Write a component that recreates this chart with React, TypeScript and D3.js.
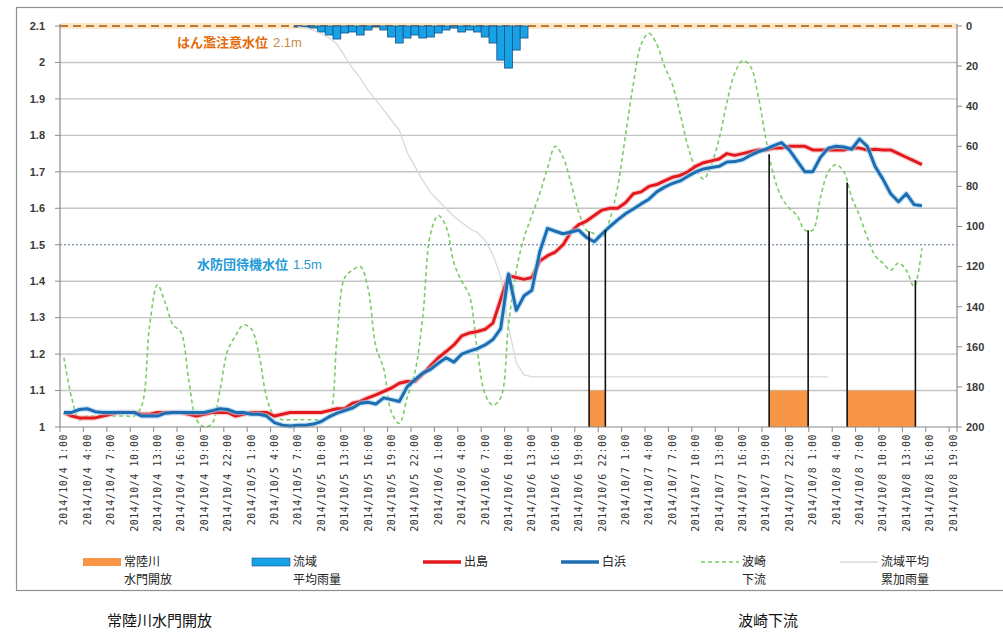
import React from 'react';
import * as d3 from 'd3';

// ---- tick labels (every 3 hours) ----
const tickLabels = [
  '2014/10/4 1:00', '2014/10/4 4:00', '2014/10/4 7:00', '2014/10/4 10:00', '2014/10/4 13:00', '2014/10/4 16:00', '2014/10/4 19:00', '2014/10/4 22:00',
  '2014/10/5 1:00', '2014/10/5 4:00', '2014/10/5 7:00', '2014/10/5 10:00', '2014/10/5 13:00', '2014/10/5 16:00', '2014/10/5 19:00', '2014/10/5 22:00',
  '2014/10/6 1:00', '2014/10/6 4:00', '2014/10/6 7:00', '2014/10/6 10:00', '2014/10/6 13:00', '2014/10/6 16:00', '2014/10/6 19:00', '2014/10/6 22:00',
  '2014/10/7 1:00', '2014/10/7 4:00', '2014/10/7 7:00', '2014/10/7 10:00', '2014/10/7 13:00', '2014/10/7 16:00', '2014/10/7 19:00', '2014/10/7 22:00',
  '2014/10/8 1:00', '2014/10/8 4:00', '2014/10/8 7:00', '2014/10/8 10:00', '2014/10/8 13:00', '2014/10/8 16:00', '2014/10/8 19:00',
];
const leftTicks = [1, 1.1, 1.2, 1.3, 1.4, 1.5, 1.6, 1.7, 1.8, 1.9, 2, 2.1];
const rightTicks = [0, 20, 40, 60, 80, 100, 120, 140, 160, 180, 200];

// ---- hourly series from 2014/10/4 1:00 (m) ----
const debashima = [
  1.04, 1.03, 1.025, 1.025, 1.025, 1.03, 1.035, 1.04, 1.04, 1.04,
  1.035, 1.035, 1.04, 1.04, 1.04, 1.04, 1.035, 1.03, 1.035, 1.04,
  1.04, 1.04, 1.03, 1.035, 1.04, 1.04, 1.04, 1.03, 1.035, 1.04,
  1.04, 1.04, 1.04, 1.04, 1.045, 1.05, 1.05, 1.065, 1.07, 1.08,
  1.088, 1.098, 1.107, 1.12, 1.125, 1.125, 1.145, 1.168, 1.19, 1.207,
  1.225, 1.25, 1.258, 1.262, 1.268, 1.285, 1.35, 1.415, 1.41, 1.405,
  1.41, 1.455, 1.47, 1.48, 1.5, 1.535, 1.555, 1.565, 1.58, 1.595,
  1.6, 1.6, 1.615, 1.64, 1.645, 1.66, 1.665, 1.675, 1.685, 1.69,
  1.7, 1.715, 1.725, 1.73, 1.735, 1.75, 1.745, 1.75, 1.755, 1.76,
  1.76, 1.765, 1.765, 1.77, 1.77, 1.77, 1.76, 1.76, 1.76, 1.76,
  1.76, 1.765, 1.765, 1.76, 1.762, 1.76, 1.76, 1.75, 1.74, 1.73,
  1.72,
];
const shirahama = [
  1.04, 1.04, 1.048, 1.05, 1.042, 1.04, 1.04, 1.04, 1.04, 1.04,
  1.03, 1.03, 1.03, 1.038, 1.04, 1.04, 1.04, 1.04, 1.04, 1.045,
  1.05, 1.048, 1.04, 1.04, 1.035, 1.035, 1.03, 1.012, 1.005, 1.003,
  1.005, 1.005, 1.008, 1.015, 1.028, 1.038, 1.045, 1.052, 1.065, 1.068,
  1.063, 1.08, 1.075, 1.07, 1.11, 1.13, 1.148, 1.158, 1.175, 1.19,
  1.178, 1.2, 1.208, 1.215, 1.225, 1.24, 1.27, 1.42, 1.32, 1.36,
  1.375, 1.48, 1.545, 1.537, 1.53, 1.535, 1.54, 1.52, 1.508, 1.53,
  1.55, 1.568, 1.585, 1.598, 1.612, 1.625, 1.645, 1.658, 1.668, 1.675,
  1.688, 1.7, 1.708, 1.712, 1.715, 1.727, 1.728, 1.733, 1.745, 1.755,
  1.762, 1.772, 1.78, 1.76, 1.73, 1.7, 1.7, 1.74, 1.765, 1.77,
  1.768, 1.762, 1.79, 1.77, 1.715, 1.68, 1.64, 1.618, 1.64, 1.61,
  1.607,
];
const hasakiDownstream = [
  1.19, 1.08, 1.02, 1.03, 1.03, 1.03, 1.03, 1.03, 1.03, 1.03,
  1.06, 1.28, 1.39, 1.34, 1.28, 1.26, 1.13, 1.02, 1.0, 1.01,
  1.1, 1.21, 1.25, 1.28, 1.27, 1.2, 1.08, 1.03, 1.02, 1.02,
  1.02, 1.02, 1.02, 1.02, 1.03, 1.24, 1.41, 1.43, 1.44, 1.38,
  1.22, 1.16, 1.04, 1.01, 1.08, 1.15, 1.3, 1.53, 1.58, 1.55,
  1.45, 1.4, 1.36, 1.21, 1.09, 1.06, 1.08, 1.28, 1.43, 1.52,
  1.58, 1.64, 1.71, 1.77, 1.74, 1.67, 1.59, 1.54, 1.53, 1.52,
  1.57, 1.66, 1.8, 1.94, 2.05, 2.08, 2.05, 1.99, 1.94, 1.86,
  1.77, 1.71, 1.68, 1.72, 1.79, 1.89, 1.97, 2.005, 1.99, 1.91,
  1.79, 1.69, 1.63, 1.6, 1.58, 1.54, 1.54, 1.63, 1.7, 1.72,
  1.7, 1.63, 1.58, 1.52, 1.47, 1.45, 1.43, 1.45, 1.43, 1.385,
  1.49,
];

// ---- rainfall (mm, right axis) starting at rainStart ----
const rainStart = '2014/10/5 7:00';
const basinRain = [
  0.5, 0.5, 1, 3, 4.5, 6.5, 3.5, 3, 4.5, 2,
  0.5, 2, 5.5, 8.5, 6, 4.5, 6, 5.5, 3.5, 2,
  1, 3, 2, 3, 5.5, 8.5, 17, 21, 12, 6,
];
const basinRainCumulative = [
  0.5, 1, 2, 4, 6, 9, 15, 21, 26, 32,
  37, 42, 47, 52, 63, 70, 77, 83, 87, 91,
  95, 98, 101, 103, 107, 114, 125, 150, 168, 174,
  175, 175, 175, 175, 175, 175, 175, 175, 175, 175,
  175, 175, 175, 175, 175, 175, 175, 175, 175, 175,
  175, 175, 175, 175, 175, 175, 175, 175, 175, 175,
  175, 175, 175, 175, 175, 175, 175, 175, 175,
];

// ---- 常陸川水門 open periods ----
const gateOpen = ['2014/10/6 20:20', '2014/10/7 19:25', '2014/10/8 5:25'];
const gateClose = ['2014/10/6 22:25', '2014/10/8 0:25', '2014/10/8 14:10'];
const gateMarkerLevel = 1.1;

// ---- reference levels ----
const floodWarnLevel = 2.1;
const standbyLevel = 1.5;

const legendItems = [
  { kind: 'gate', lines: ['常陸川', '水門開放'] },
  { kind: 'rain', lines: ['流域', '平均雨量'] },
  { kind: 'debashima', lines: ['出島'] },
  { kind: 'shirahama', lines: ['白浜'] },
  { kind: 'hasaki', lines: ['波崎', '下流'] },
  { kind: 'cum', lines: ['流域平均', '累加雨量'] },
];

const C = {
  red: '#e3191f',
  blue: '#1e6db3',
  rainFill: '#18a2e6',
  rainStroke: '#17508a',
  green: '#7ccc66',
  gray: '#d9d9d9',
  orange: '#f79646',
  grid: '#c4c4c4',
};

const JP = '"Noto Sans CJK JP", "Noto Sans", sans-serif';

export default function App() {
  const W = 1003, H = 633;
  const m = { left: 60, right: 957, top: 26, bottom: 427 };
  const parse = d3.timeParse('%Y/%m/%d %H:%M');
  const t0 = parse(tickLabels[0])!.getTime();
  const hoursFrom = (s: string) => (parse(s)!.getTime() - t0) / 3600000;
  const nCat = hoursFrom(tickLabels[tickLabels.length - 1]) + 1;

  const x = d3.scaleLinear().domain([0, nCat]).range([m.left, m.right]);
  const cx = (h: number) => x(h + 0.5);
  const yL = d3.scaleLinear().domain([1, 2.1]).range([m.bottom, m.top]);
  const yR = d3.scaleLinear().domain([0, 200]).range([m.top, m.bottom]);

  const lineL = d3.line<number>().x((_, i) => cx(i)).y((v) => yL(v));
  const lineSmooth = d3.line<number>().x((_, i) => cx(i)).y((v) => yL(v)).curve(d3.curveCatmullRom.alpha(0.5));
  const rs = hoursFrom(rainStart);
  const lineCum = d3.line<number>().x((_, i) => cx(rs + i)).y((v) => yR(v));

  const interp = (arr: number[], t: number) => {
    const i0 = Math.max(0, Math.min(arr.length - 2, Math.floor(t)));
    const f = t - i0;
    return arr[i0] * (1 - f) + arr[i0 + 1] * f;
  };

  const gates = gateOpen.map((o, k) => ({ open: hoursFrom(o), close: hoursFrom(gateClose[k]) }));
  const dropTimes = gates.flatMap((g) => [g.open, g.close]);

  const legendX = [83, 252, 423, 561, 701, 840];

  return (
    <svg width={W} height={H} style={{ position: 'absolute', left: 0, top: 0, background: '#fff' }}>
      <rect x={0} y={0} width={W} height={H} fill="#fff" />
      {/* outer border */}
      <rect x={16.5} y={7.5} width={W} height={583} fill="none" stroke="#8f8f8f" strokeWidth={1.2} />

      {/* gridlines */}
      {leftTicks.filter((v) => v !== 1 && v !== floodWarnLevel && v !== standbyLevel).map((v) => (
        <line key={'g' + v} x1={m.left} x2={m.right} y1={yL(v)} y2={yL(v)} stroke={C.grid} strokeWidth={1.4} />
      ))}

      {/* gate open markers */}
      {gates.map((g, k) => (
        <rect key={'gate' + k} x={cx(g.open)} y={yL(gateMarkerLevel)} width={cx(g.close) - cx(g.open)}
          height={yL(1) - yL(gateMarkerLevel)} fill={C.orange} />
      ))}

      {/* flood warning level */}
      <line x1={m.left} x2={m.right} y1={yL(floodWarnLevel)} y2={yL(floodWarnLevel)} stroke="#fde6c4" strokeWidth={6} />
      <line x1={m.left} x2={m.right} y1={yL(floodWarnLevel)} y2={yL(floodWarnLevel)} stroke="#b87a3a" strokeWidth={2} strokeDasharray="8,5" />

      {/* rain bars (right axis, hanging) */}
      {basinRain.map((v, i) => (
        <rect key={'r' + i} x={x(rs + i)} y={yR(0)} width={x(rs + i + 1) - x(rs + i)} height={yR(v) - yR(0)}
          fill={C.rainFill} stroke={C.rainStroke} strokeWidth={0.8} />
      ))}

      {/* standby level */}
      <line x1={m.left} x2={m.right} y1={yL(standbyLevel)} y2={yL(standbyLevel)} stroke="#5b7c99" strokeWidth={1.2} strokeDasharray="2,2" />

      {/* cumulative rain */}
      <path d={lineCum(basinRainCumulative)!} fill="none" stroke={C.gray} strokeWidth={1.3} />

      {/* hasaki */}
      <path d={lineSmooth(hasakiDownstream)!} fill="none" stroke={C.green} strokeWidth={1.6} strokeDasharray="4,3" />

      {/* debashima */}
      <path d={lineL(debashima)!} fill="none" stroke="#f6b3b3" strokeWidth={5.5} strokeLinejoin="round" opacity={0.6} />
      <path d={lineL(debashima)!} fill="none" stroke={C.red} strokeWidth={3} strokeLinejoin="round" />
      {/* shirahama */}
      <path d={lineL(shirahama)!} fill="none" stroke="#9fd3f2" strokeWidth={5.5} strokeLinejoin="round" opacity={0.6} />
      <path d={lineL(shirahama)!} fill="none" stroke={C.blue} strokeWidth={3} strokeLinejoin="round" />

      {/* drop lines at gate open/close */}
      {dropTimes.map((t, k) => (
        <line key={'d' + k} x1={cx(t)} x2={cx(t)} y1={yL(1)} y2={yL(interp(hasakiDownstream, t))} stroke="#111" strokeWidth={1.6} />
      ))}

      {/* reference labels */}
      <text x={177} y={47} fontFamily={JP} fontSize={13} fill="#e46c0a">
        <tspan fontWeight="bold">はん濫注意水位</tspan>
        <tspan dx={5} fill="#c98a45" fontFamily="Liberation Sans, Arial, sans-serif">2.1m</tspan>
      </text>
      <text x={197} y={269} fontFamily={JP} fontSize={13} fill="#1f9ad8">
        <tspan fontWeight="bold">水防団待機水位</tspan>
        <tspan dx={5} fill="#2a98cf" fontFamily="Liberation Sans, Arial, sans-serif">1.5m</tspan>
      </text>

      {/* axes */}
      <line x1={m.left} x2={m.left} y1={m.top - 2} y2={m.bottom} stroke="#8a8a8a" strokeWidth={1.2} />
      <line x1={m.right} x2={m.right} y1={m.top - 2} y2={m.bottom} stroke="#8a8a8a" strokeWidth={1.2} />
      <line x1={m.left} x2={m.right} y1={m.bottom} y2={m.bottom} stroke="#8a8a8a" strokeWidth={1.2} />
      {leftTicks.map((v) => (
        <g key={'lt' + v}>
          <line x1={m.left - 5} x2={m.left} y1={yL(v)} y2={yL(v)} stroke="#8a8a8a" />
          <text x={m.left - 15} y={yL(v)} dy="0.35em" textAnchor="end" fontSize={11} fontWeight="bold"
            fontFamily="Liberation Sans, Arial, sans-serif" fill="#3a3a3a">{String(v)}</text>
        </g>
      ))}
      {rightTicks.map((v) => (
        <g key={'rt' + v}>
          <line x1={m.right} x2={m.right + 5} y1={yR(v)} y2={yR(v)} stroke="#8a8a8a" />
          <text x={m.right + 9} y={yR(v)} dy="0.35em" fontSize={11} fontWeight="bold"
            fontFamily="Liberation Sans, Arial, sans-serif" fill="#3a3a3a">{String(v)}</text>
        </g>
      ))}
      {tickLabels.map((lab, k) => {
        const h = hoursFrom(lab);
        const tx = cx(h);
        return (
          <g key={'xt' + k}>
            <line x1={x(h)} x2={x(h)} y1={m.bottom} y2={m.bottom + 5} stroke="#8a8a8a" />
            <text transform={`translate(${tx},${m.bottom + 7}) rotate(-90)`} textAnchor="end" dy="0.35em"
              fontSize={10} fontFamily="DejaVu Sans Mono, monospace" letterSpacing={0.5} fill="#333">{lab}</text>
          </g>
        );
      })}
      <line x1={m.right} x2={m.right} y1={m.bottom} y2={m.bottom + 5} stroke="#8a8a8a" />

      {/* legend */}
      {legendItems.map((it, k) => {
        const lx = legendX[k];
        const ly = 562;
        let sw: React.ReactNode = null;
        if (it.kind === 'gate') sw = <rect x={lx} y={ly - 4} width={38} height={8} fill={C.orange} />;
        if (it.kind === 'rain') sw = <rect x={lx} y={ly - 4} width={38} height={8} fill={C.rainFill} stroke={C.rainStroke} strokeWidth={0.6} />;
        if (it.kind === 'debashima') sw = <line x1={lx} x2={lx + 38} y1={ly} y2={ly} stroke={C.red} strokeWidth={3.5} />;
        if (it.kind === 'shirahama') sw = <line x1={lx} x2={lx + 38} y1={ly} y2={ly} stroke={C.blue} strokeWidth={3.5} />;
        if (it.kind === 'hasaki') sw = <line x1={lx} x2={lx + 38} y1={ly} y2={ly} stroke={C.green} strokeWidth={1.6} strokeDasharray="4,3" />;
        if (it.kind === 'cum') sw = <line x1={lx} x2={lx + 38} y1={ly} y2={ly} stroke={C.gray} strokeWidth={1.5} />;
        return (
          <g key={'lg' + k}>
            {sw}
            {it.lines.map((t, j) => (
              <text key={j} x={lx + 41} y={ly + j * 18} dy="0.35em" fontSize={12} fontFamily={JP} fill="#222">{t}</text>
            ))}
          </g>
        );
      })}

      {/* bottom captions */}
      <text x={107} y={621} dy="0.35em" fontSize={15} fontFamily={JP} fill="#111">常陸川水門開放</text>
      <text x={738} y={621} dy="0.35em" fontSize={15} fontFamily={JP} fill="#111">波崎下流</text>
    </svg>
  );
}
